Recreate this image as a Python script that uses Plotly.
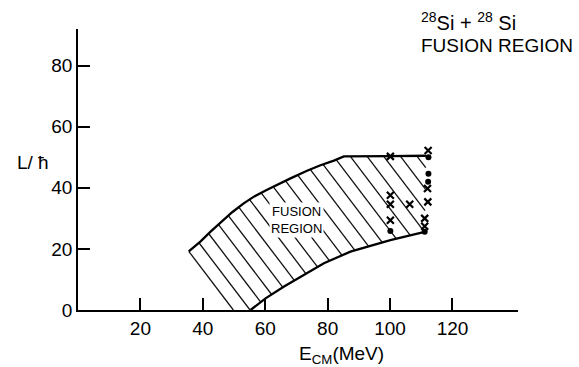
import plotly.graph_objects as go

# ---- data (E_CM in MeV, L in hbar) ----
upper_E = [35.5, 39.2, 42.4, 46.2, 49.4, 53.1, 56.5, 60.6, 64.5, 68.1, 73.4, 77.7, 82.0, 85.2, 100.0, 111.5]
upper_L = [19.2, 22.4, 25.6, 29.2, 32.0, 34.9, 37.2, 39.4, 41.4, 43.1, 45.6, 47.4, 48.9, 50.3, 50.4, 50.5]
lower_E = [55.3, 60.1, 65.9, 71.3, 78.8, 87.3, 94.0, 100.1, 111.1]
lower_L = [0.0, 3.8, 7.6, 10.9, 15.3, 19.1, 21.2, 22.9, 25.6]

cross_E = [100.1, 100.1, 100.1, 100.1, 106.3, 112.2, 112.0, 112.1, 111.1, 111.1]
cross_L = [50.3, 37.6, 34.6, 29.4, 34.6, 52.2, 39.8, 35.4, 30.0, 27.4]
dot_E = [100.1, 112.3, 112.3, 112.2, 111.1]
dot_L = [25.9, 50.0, 44.6, 42.0, 25.6]

x_ticks = [20, 40, 60, 80, 100, 120]
y_ticks = [0, 20, 40, 60, 80]

# ---- hatch styling ----
HATCH_SLOPE = 1.345   # dL/dE (downward to the right)
HATCH_STEP = 5.35     # spacing along E

corner_E, corner_L = upper_E[0], upper_L[0]
foot_E = corner_E + corner_L / HATCH_SLOPE

poly = list(zip(upper_E, upper_L)) + list(zip(lower_E[::-1], lower_L[::-1])) + [(foot_E, 0.0)]


def clip_line(c):
    pts = []
    n = len(poly)
    for i in range(n):
        p1, p2 = poly[i], poly[(i + 1) % n]
        f1 = p1[1] + HATCH_SLOPE * (p1[0] - c)
        f2 = p2[1] + HATCH_SLOPE * (p2[0] - c)
        if (f1 > 0) != (f2 > 0):
            t = f1 / (f1 - f2)
            pts.append((p1[0] + (p2[0] - p1[0]) * t, p1[1] + (p2[1] - p1[1]) * t))
    pts.sort()
    segs = []
    for j in range(0, len(pts) - 1, 2):
        segs.append((pts[j], pts[j + 1]))
    return segs


hx, hy = [corner_E, foot_E, None], [corner_L, 0.0, None]
c = foot_E + HATCH_STEP
max_c = max(e + l / HATCH_SLOPE for e, l in poly)
while c < max_c:
    for a, b in clip_line(c):
        hx += [a[0], b[0], None]
        hy += [a[1], b[1], None]
    c += HATCH_STEP

FONT = "Liberation Sans, Arial, sans-serif"

fig = go.Figure()
fig.add_trace(go.Scatter(x=hx, y=hy, mode="lines", line=dict(color="#111", width=1.3),
                         hoverinfo="skip", showlegend=False))
fig.add_trace(go.Scatter(x=upper_E, y=upper_L, mode="lines", line=dict(color="#000", width=2.3),
                         showlegend=False))
fig.add_trace(go.Scatter(x=lower_E, y=lower_L, mode="lines", line=dict(color="#000", width=2.3),
                         showlegend=False))
fig.add_trace(go.Scatter(x=cross_E, y=cross_L, mode="markers",
                         marker=dict(symbol="x-thin-open", size=7, color="#000",
                                     line=dict(color="#000", width=2.2)),
                         showlegend=False))
fig.add_trace(go.Scatter(x=dot_E, y=dot_L, mode="markers",
                         marker=dict(symbol="circle", size=6, color="#000"),
                         showlegend=False))

W, H = 579, 367
ML, MR, MT, MB = 78, 61, 29, 57
PW, PH = W - ML - MR, H - MT - MB


def px(X):
    return (X - ML) / PW


def py(Y):
    return (H - MB - Y) / PH


ann = [
    dict(text="L/ ħ", x=px(33), y=py(162), size=19, bg=None),
    dict(text="E<sub>CM</sub>(MeV)", x=px(341), y=py(355), size=19, bg=None),
    dict(text="<sup>28</sup>Si + <sup>28</sup> Si", x=px(468), y=py(22), size=20, bg=None),
    dict(text="FUSION REGION", x=px(497), y=py(45), size=19, bg=None),
    dict(text="FUSION<br>REGION", x=px(296), y=py(220), size=13, bg="white"),
]
for a in ann:
    kw = {}
    if a["bg"]:
        kw["bgcolor"] = a["bg"]
    fig.add_annotation(text=a["text"], x=a["x"], y=a["y"], xref="paper", yref="paper",
                       xanchor="center", yanchor="middle", showarrow=False,
                       font=dict(family=FONT, size=a["size"], color="#000"), **kw)

fig.update_layout(
    width=W, height=H,
    margin=dict(l=ML, r=MR, t=MT, b=MB),
    paper_bgcolor="white", plot_bgcolor="white",
    font=dict(family=FONT, color="#000"),
    xaxis=dict(range=[0, 141], tickvals=x_ticks, ticktext=[str(v) for v in x_ticks],
               showgrid=False, zeroline=False, showline=True, linecolor="#000", linewidth=1.6,
               ticks="inside", ticklen=12, tickwidth=1.6, tickcolor="#000",
               tickfont=dict(family=FONT, size=19, color="#000")),
    yaxis=dict(range=[0, 92], tickvals=y_ticks, ticktext=[str(v) for v in y_ticks],
               showgrid=False, zeroline=False, showline=True, linecolor="#000", linewidth=1.6,
               ticks="inside", ticklen=12, tickwidth=1.6, tickcolor="#000",
               tickfont=dict(family=FONT, size=19, color="#000")),
)

fig.write_html("out.html")
